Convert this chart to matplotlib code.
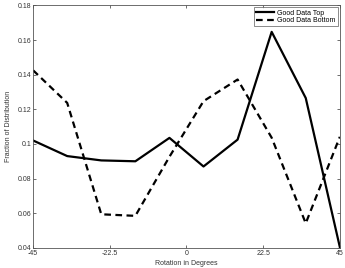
import matplotlib
matplotlib.use("Agg")
import matplotlib.pyplot as plt

plt.rcParams['font.family'] = ['Liberation Sans', 'DejaVu Sans']

# rotation bins (degrees)
angles = [-45, -35, -25, -15, -5, 5, 15, 25, 35, 45]
good_top = [0.102, 0.093, 0.0905, 0.090, 0.1035, 0.087, 0.1025, 0.1647, 0.1265, 0.0405]
good_bottom = [0.1425, 0.1237, 0.0594, 0.0585, 0.0926, 0.1247, 0.1372, 0.1036, 0.0542, 0.1041]

xticks = [-45, -22.5, 0, 22.5, 45]
xticklabels = ['-45', '-22.5', '0', '22.5', '45']
yticks = [0.04, 0.06, 0.08, 0.1, 0.12, 0.14, 0.16, 0.18]
yticklabels = ['0.04', '0.06', '0.08', '0.1', '0.12', '0.14', '0.16', '0.18']

fig = plt.figure(figsize=(3.45, 2.68), dpi=100)
ax = fig.add_axes([0.096, 0.075, 0.889, 0.905])

ax.plot(angles, good_top, 'k-', lw=1.6, label='Good Data Top')
ax.plot(angles, good_bottom, 'k--', lw=1.6, dashes=(3, 2), label='Good Data Bottom')

ax.set_xlim(-45, 45)
ax.set_ylim(0.04, 0.18)
ax.set_xticks(xticks)
ax.set_xticklabels(xticklabels)
ax.set_yticks(yticks)
ax.set_yticklabels(yticklabels)
ax.tick_params(direction='in', top=True, right=True, labelsize=5, length=2.5,
               width=0.5, pad=1.5, colors='#333333')
for s in ax.spines.values():
    s.set_linewidth(0.6)
    s.set_color('#555555')

ax.set_xlabel('Rotation in Degrees', fontsize=5, labelpad=2, color='#333333')
ax.set_ylabel('Fraction of Distribution', fontsize=5, labelpad=4, color='#333333')

leg = ax.legend(loc='upper right', fontsize=5, frameon=True, fancybox=False,
                handlelength=2.5, borderpad=0.3, labelspacing=0.1,
                borderaxespad=0.3, handletextpad=0.5)
leg.get_frame().set_edgecolor('#555555')
leg.get_frame().set_linewidth(0.6)

fig.savefig('out.png', dpi=100)
